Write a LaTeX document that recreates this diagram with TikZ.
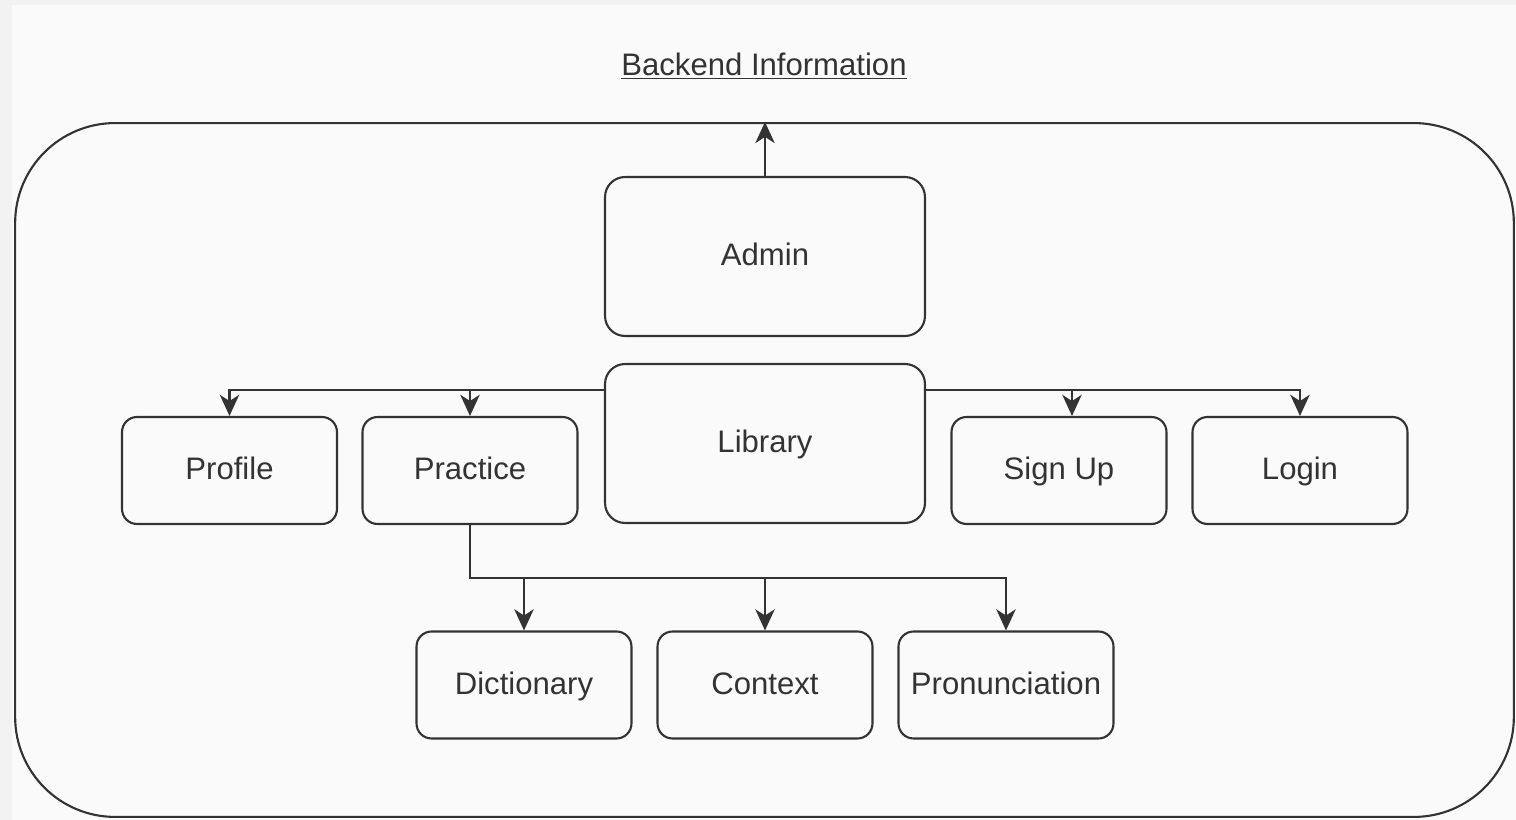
\documentclass[tikz,border=0pt]{standalone}
\usepackage{fontspec}
\setmainfont{Liberation Sans}
\usetikzlibrary{arrows.meta}
\definecolor{pagegray}{HTML}{F2F2F2}
\definecolor{sheet}{HTML}{FAFAFA}
\definecolor{ink}{HTML}{333333}

\begin{document}
\begin{tikzpicture}[x=0.02cm,y=-0.02cm, ink, line width=1.2pt, >={Stealth[length=12pt,width=11pt,inset=3.5pt]},
    lbl/.style={text=ink,font=\fontsize{17.7}{21}\selectfont,text height=2.2ex,text depth=0.2ex},
    panel/.style={draw,rounded corners=2cm,minimum width=29.98cm,minimum height=13.88cm},
    bignode/.style={lbl,draw,rounded corners=0.4cm,minimum width=6.4cm,minimum height=3.18cm},
    boxnode/.style={lbl,draw,rounded corners=0.3cm,minimum width=4.3cm,minimum height=2.14cm,inner sep=2pt}]
    \fill[pagegray] (0,0) rectangle (1516,820);
    \fill[sheet] (12,5) rectangle (1516,820);
    \useasboundingbox (0,0) rectangle (1516,820);

    \node[lbl] (title) at (764,66) {\underline{Backend Information}};
    \node[panel] (backend) at (764.5,470) {};
    \node[bignode] (admin) at (765,256.5) {Admin};
    \node[bignode] (library) at (765,443.5) {Library};
    \node[boxnode] (profile) at (229.5,470.5) {Profile};
    \node[boxnode] (practice) at (470,470.5) {Practice};
    \node[boxnode] (signup) at (1059,470.5) {Sign Up};
    \node[boxnode] (login) at (1300,470.5) {Login};
    \node[boxnode] (dictionary) at (524,685) {Dictionary};
    \node[boxnode] (context) at (765,685) {Context};
    \node[boxnode] (pronunciation) at (1006,685) {Pronunciation};

    \coordinate (split) at (0,390);
    \coordinate (fork) at (0,578);

    \draw[->] (admin.north) -- (admin.north |- backend.north);
    \draw[->] (library.west |- split) -| (profile.north);
    \draw[->] (practice.north |- split) -- (practice.north);
    \draw[->] (library.east |- split) -| (login.north);
    \draw[->] ([xshift=0.26cm]signup.north |- split) -- ([xshift=0.26cm]signup.north);
    \draw[->] (practice.south) |- (pronunciation.north |- fork) -- (pronunciation.north);
    \draw[->] (dictionary.north |- fork) -- (dictionary.north);
    \draw[->] (context.north |- fork) -- (context.north);
\end{tikzpicture}
\end{document}
